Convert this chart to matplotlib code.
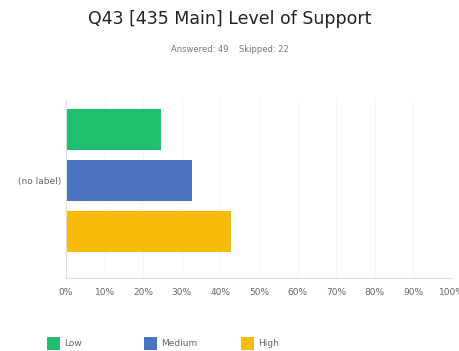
import matplotlib.pyplot as plt
from matplotlib.patches import Rectangle
from matplotlib.ticker import PercentFormatter

# answer breakdown (share of respondents, %)
levels = ['Low', 'Medium', 'High']
shares = [24.49, 32.65, 42.86]
colors = ['#1fbf6e', '#4a74c0', '#f7bb0a']
answered = 49
skipped = 22

fig = plt.figure(figsize=(4.59, 3.51), dpi=100)
ax = fig.add_axes([0.1438, 0.208, 0.841, 0.507])

ax.barh(range(len(levels)), shares, height=0.8, color=colors)
ax.set_xlim(0, 100)
ax.set_ylim(2.91, -0.58)
ax.set_xticks(range(0, 101, 10))
ax.xaxis.set_major_formatter(PercentFormatter(decimals=0))
ax.set_yticks([1])
ax.set_yticklabels(['(no label)'])
ax.tick_params(axis='both', length=0, labelsize=6.5, colors='#666666')
ax.tick_params(axis='x', pad=7)
ax.grid(axis='x', color='#f2f2f2', linewidth=0.6)
ax.set_axisbelow(True)
for s in ['top', 'right']:
    ax.spines[s].set_visible(False)
ax.spines['left'].set_color('#dddddd')
ax.spines['bottom'].set_color('#dddddd')

fig.text(0.5, 0.945, 'Q43 [435 Main] Level of Support', ha='center', va='center',
         fontsize=12.5, color='#222222')
fig.text(0.5, 0.858, f'Answered: {answered}    Skipped: {skipped}', ha='center',
         va='center', fontsize=6, color='#777777')

# legend: fixed-width slots along the bottom
w, h = 13 / 459, 13 / 351
for i, (lab, c) in enumerate(zip(levels, colors)):
    x0 = (47 + 97 * i) / 459
    fig.add_artist(Rectangle((x0, 0.022 - h / 2), w, h, transform=fig.transFigure,
                             facecolor=c, edgecolor='none'))
    fig.text(x0 + w + 4 / 459, 0.022, lab, ha='left', va='center',
             fontsize=6.5, color='#666666')

fig.savefig('out.png', dpi=100, facecolor='white')
